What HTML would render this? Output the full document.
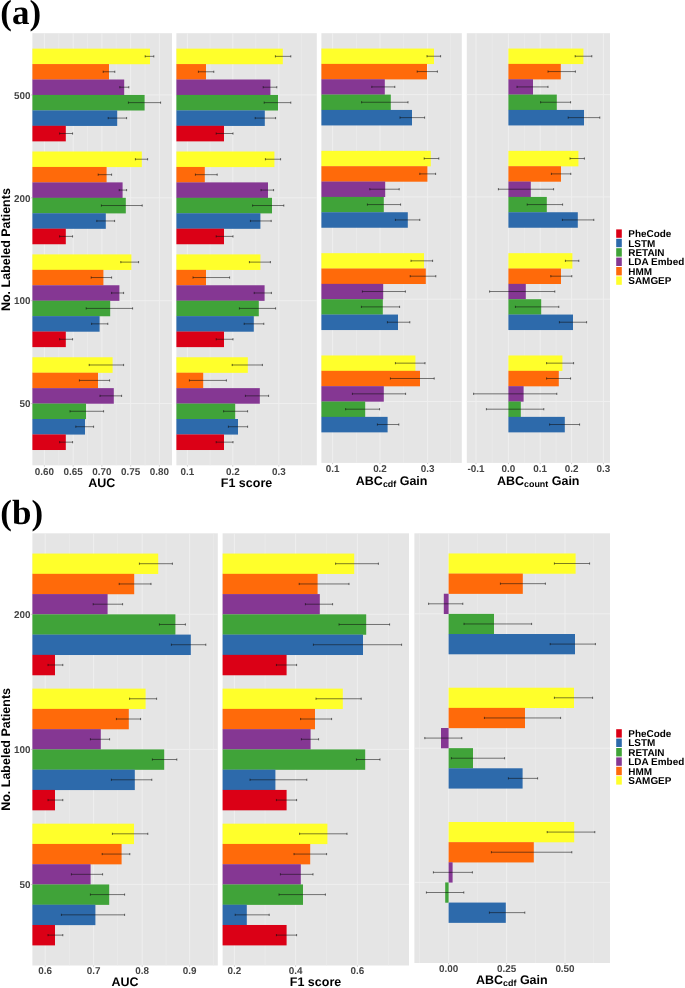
<!DOCTYPE html>
<html lang="en">
<head>
<meta charset="utf-8">
<title>Figure: phenotyping model comparison</title>
<style>
html,body{margin:0;padding:0;background:#fff;}
body{width:685px;height:988px;overflow:hidden;}
svg{display:block;will-change:transform;}
svg text{font-family:"Liberation Sans",Arial,Helvetica,sans-serif;font-weight:bold;text-rendering:geometricPrecision;}
</style>
</head>
<body>
<svg width="685" height="988" viewBox="0 0 685 988">
<rect x="0" y="0" width="685" height="988" fill="#ffffff"/>
<rect x="32.40" y="33.20" width="139.60" height="432.10" fill="#E5E5E5"/>
<line x1="58.80" y1="33.20" x2="58.80" y2="465.30" stroke="#ECECEC" stroke-width="0.6"/>
<line x1="87.50" y1="33.20" x2="87.50" y2="465.30" stroke="#ECECEC" stroke-width="0.6"/>
<line x1="116.30" y1="33.20" x2="116.30" y2="465.30" stroke="#ECECEC" stroke-width="0.6"/>
<line x1="145.00" y1="33.20" x2="145.00" y2="465.30" stroke="#ECECEC" stroke-width="0.6"/>
<line x1="44.40" y1="33.20" x2="44.40" y2="465.30" stroke="#EFEFEF" stroke-width="1.0"/>
<line x1="73.15" y1="33.20" x2="73.15" y2="465.30" stroke="#EFEFEF" stroke-width="1.0"/>
<line x1="101.90" y1="33.20" x2="101.90" y2="465.30" stroke="#EFEFEF" stroke-width="1.0"/>
<line x1="130.65" y1="33.20" x2="130.65" y2="465.30" stroke="#EFEFEF" stroke-width="1.0"/>
<line x1="159.40" y1="33.20" x2="159.40" y2="465.30" stroke="#EFEFEF" stroke-width="1.0"/>
<line x1="32.40" y1="94.93" x2="172.00" y2="94.93" stroke="#EFEFEF" stroke-width="1.0"/>
<line x1="32.40" y1="197.81" x2="172.00" y2="197.81" stroke="#EFEFEF" stroke-width="1.0"/>
<line x1="32.40" y1="300.69" x2="172.00" y2="300.69" stroke="#EFEFEF" stroke-width="1.0"/>
<line x1="32.40" y1="403.57" x2="172.00" y2="403.57" stroke="#EFEFEF" stroke-width="1.0"/>
<rect x="32.40" y="48.63" width="117.60" height="15.58" fill="#FFFF2B"/>
<rect x="32.40" y="64.06" width="76.60" height="15.58" fill="#FF6A0A"/>
<rect x="32.40" y="79.50" width="91.80" height="15.58" fill="#853793"/>
<rect x="32.40" y="94.93" width="112.20" height="15.58" fill="#40A339"/>
<rect x="32.40" y="110.36" width="84.80" height="15.58" fill="#2D6AAB"/>
<rect x="32.40" y="125.79" width="33.40" height="15.58" fill="#DB0016"/>
<line x1="145.20" y1="56.35" x2="153.80" y2="56.35" stroke="#111111" stroke-width="0.55"/>
<line x1="145.20" y1="55.25" x2="145.20" y2="57.45" stroke="#111111" stroke-width="0.6"/>
<line x1="153.80" y1="55.25" x2="153.80" y2="57.45" stroke="#111111" stroke-width="0.6"/>
<line x1="103.20" y1="71.78" x2="114.80" y2="71.78" stroke="#111111" stroke-width="0.55"/>
<line x1="103.20" y1="70.68" x2="103.20" y2="72.88" stroke="#111111" stroke-width="0.6"/>
<line x1="114.80" y1="70.68" x2="114.80" y2="72.88" stroke="#111111" stroke-width="0.6"/>
<line x1="119.80" y1="87.21" x2="128.80" y2="87.21" stroke="#111111" stroke-width="0.55"/>
<line x1="119.80" y1="86.11" x2="119.80" y2="88.31" stroke="#111111" stroke-width="0.6"/>
<line x1="128.80" y1="86.11" x2="128.80" y2="88.31" stroke="#111111" stroke-width="0.6"/>
<line x1="128.40" y1="102.64" x2="160.60" y2="102.64" stroke="#111111" stroke-width="0.55"/>
<line x1="128.40" y1="101.54" x2="128.40" y2="103.74" stroke="#111111" stroke-width="0.6"/>
<line x1="160.60" y1="101.54" x2="160.60" y2="103.74" stroke="#111111" stroke-width="0.6"/>
<line x1="108.20" y1="118.08" x2="126.60" y2="118.08" stroke="#111111" stroke-width="0.55"/>
<line x1="108.20" y1="116.98" x2="108.20" y2="119.18" stroke="#111111" stroke-width="0.6"/>
<line x1="126.60" y1="116.98" x2="126.60" y2="119.18" stroke="#111111" stroke-width="0.6"/>
<line x1="59.60" y1="133.51" x2="72.60" y2="133.51" stroke="#111111" stroke-width="0.55"/>
<line x1="59.60" y1="132.41" x2="59.60" y2="134.61" stroke="#111111" stroke-width="0.6"/>
<line x1="72.60" y1="132.41" x2="72.60" y2="134.61" stroke="#111111" stroke-width="0.6"/>
<rect x="32.40" y="151.51" width="109.40" height="15.58" fill="#FFFF2B"/>
<rect x="32.40" y="166.95" width="74.20" height="15.58" fill="#FF6A0A"/>
<rect x="32.40" y="182.38" width="90.20" height="15.58" fill="#853793"/>
<rect x="32.40" y="197.81" width="93.40" height="15.58" fill="#40A339"/>
<rect x="32.40" y="213.24" width="73.40" height="15.58" fill="#2D6AAB"/>
<rect x="32.40" y="228.67" width="33.40" height="15.58" fill="#DB0016"/>
<line x1="135.40" y1="159.23" x2="147.60" y2="159.23" stroke="#111111" stroke-width="0.55"/>
<line x1="135.40" y1="158.13" x2="135.40" y2="160.33" stroke="#111111" stroke-width="0.6"/>
<line x1="147.60" y1="158.13" x2="147.60" y2="160.33" stroke="#111111" stroke-width="0.6"/>
<line x1="98.20" y1="174.66" x2="111.60" y2="174.66" stroke="#111111" stroke-width="0.55"/>
<line x1="98.20" y1="173.56" x2="98.20" y2="175.76" stroke="#111111" stroke-width="0.6"/>
<line x1="111.60" y1="173.56" x2="111.60" y2="175.76" stroke="#111111" stroke-width="0.6"/>
<line x1="119.20" y1="190.09" x2="126.60" y2="190.09" stroke="#111111" stroke-width="0.55"/>
<line x1="119.20" y1="188.99" x2="119.20" y2="191.19" stroke="#111111" stroke-width="0.6"/>
<line x1="126.60" y1="188.99" x2="126.60" y2="191.19" stroke="#111111" stroke-width="0.6"/>
<line x1="101.40" y1="205.53" x2="142.20" y2="205.53" stroke="#111111" stroke-width="0.55"/>
<line x1="101.40" y1="204.43" x2="101.40" y2="206.63" stroke="#111111" stroke-width="0.6"/>
<line x1="142.20" y1="204.43" x2="142.20" y2="206.63" stroke="#111111" stroke-width="0.6"/>
<line x1="96.80" y1="220.96" x2="114.60" y2="220.96" stroke="#111111" stroke-width="0.55"/>
<line x1="96.80" y1="219.86" x2="96.80" y2="222.06" stroke="#111111" stroke-width="0.6"/>
<line x1="114.60" y1="219.86" x2="114.60" y2="222.06" stroke="#111111" stroke-width="0.6"/>
<line x1="59.60" y1="236.39" x2="72.60" y2="236.39" stroke="#111111" stroke-width="0.55"/>
<line x1="59.60" y1="235.29" x2="59.60" y2="237.49" stroke="#111111" stroke-width="0.6"/>
<line x1="72.60" y1="235.29" x2="72.60" y2="237.49" stroke="#111111" stroke-width="0.6"/>
<rect x="32.40" y="254.39" width="99.00" height="15.58" fill="#FFFF2B"/>
<rect x="32.40" y="269.83" width="71.00" height="15.58" fill="#FF6A0A"/>
<rect x="32.40" y="285.26" width="87.00" height="15.58" fill="#853793"/>
<rect x="32.40" y="300.69" width="77.80" height="15.58" fill="#40A339"/>
<rect x="32.40" y="316.12" width="67.20" height="15.58" fill="#2D6AAB"/>
<rect x="32.40" y="331.55" width="33.40" height="15.58" fill="#DB0016"/>
<line x1="120.80" y1="262.11" x2="138.60" y2="262.11" stroke="#111111" stroke-width="0.55"/>
<line x1="120.80" y1="261.01" x2="120.80" y2="263.21" stroke="#111111" stroke-width="0.6"/>
<line x1="138.60" y1="261.01" x2="138.60" y2="263.21" stroke="#111111" stroke-width="0.6"/>
<line x1="91.20" y1="277.54" x2="111.60" y2="277.54" stroke="#111111" stroke-width="0.55"/>
<line x1="91.20" y1="276.44" x2="91.20" y2="278.64" stroke="#111111" stroke-width="0.6"/>
<line x1="111.60" y1="276.44" x2="111.60" y2="278.64" stroke="#111111" stroke-width="0.6"/>
<line x1="111.60" y1="292.97" x2="123.60" y2="292.97" stroke="#111111" stroke-width="0.55"/>
<line x1="111.60" y1="291.87" x2="111.60" y2="294.07" stroke="#111111" stroke-width="0.6"/>
<line x1="123.60" y1="291.87" x2="123.60" y2="294.07" stroke="#111111" stroke-width="0.6"/>
<line x1="86.20" y1="308.41" x2="132.60" y2="308.41" stroke="#111111" stroke-width="0.55"/>
<line x1="86.20" y1="307.31" x2="86.20" y2="309.51" stroke="#111111" stroke-width="0.6"/>
<line x1="132.60" y1="307.31" x2="132.60" y2="309.51" stroke="#111111" stroke-width="0.6"/>
<line x1="91.60" y1="323.84" x2="107.80" y2="323.84" stroke="#111111" stroke-width="0.55"/>
<line x1="91.60" y1="322.74" x2="91.60" y2="324.94" stroke="#111111" stroke-width="0.6"/>
<line x1="107.80" y1="322.74" x2="107.80" y2="324.94" stroke="#111111" stroke-width="0.6"/>
<line x1="59.60" y1="339.27" x2="72.60" y2="339.27" stroke="#111111" stroke-width="0.55"/>
<line x1="59.60" y1="338.17" x2="59.60" y2="340.37" stroke="#111111" stroke-width="0.6"/>
<line x1="72.60" y1="338.17" x2="72.60" y2="340.37" stroke="#111111" stroke-width="0.6"/>
<rect x="32.40" y="357.27" width="80.20" height="15.58" fill="#FFFF2B"/>
<rect x="32.40" y="372.71" width="65.60" height="15.58" fill="#FF6A0A"/>
<rect x="32.40" y="388.14" width="81.40" height="15.58" fill="#853793"/>
<rect x="32.40" y="403.57" width="53.60" height="15.58" fill="#40A339"/>
<rect x="32.40" y="419.00" width="52.60" height="15.58" fill="#2D6AAB"/>
<rect x="32.40" y="434.44" width="33.40" height="15.58" fill="#DB0016"/>
<line x1="89.20" y1="364.99" x2="123.60" y2="364.99" stroke="#111111" stroke-width="0.55"/>
<line x1="89.20" y1="363.89" x2="89.20" y2="366.09" stroke="#111111" stroke-width="0.6"/>
<line x1="123.60" y1="363.89" x2="123.60" y2="366.09" stroke="#111111" stroke-width="0.6"/>
<line x1="79.40" y1="380.42" x2="109.60" y2="380.42" stroke="#111111" stroke-width="0.55"/>
<line x1="79.40" y1="379.32" x2="79.40" y2="381.52" stroke="#111111" stroke-width="0.6"/>
<line x1="109.60" y1="379.32" x2="109.60" y2="381.52" stroke="#111111" stroke-width="0.6"/>
<line x1="100.00" y1="395.86" x2="121.60" y2="395.86" stroke="#111111" stroke-width="0.55"/>
<line x1="100.00" y1="394.76" x2="100.00" y2="396.96" stroke="#111111" stroke-width="0.6"/>
<line x1="121.60" y1="394.76" x2="121.60" y2="396.96" stroke="#111111" stroke-width="0.6"/>
<line x1="70.00" y1="411.29" x2="103.60" y2="411.29" stroke="#111111" stroke-width="0.55"/>
<line x1="70.00" y1="410.19" x2="70.00" y2="412.39" stroke="#111111" stroke-width="0.6"/>
<line x1="103.60" y1="410.19" x2="103.60" y2="412.39" stroke="#111111" stroke-width="0.6"/>
<line x1="75.80" y1="426.72" x2="93.60" y2="426.72" stroke="#111111" stroke-width="0.55"/>
<line x1="75.80" y1="425.62" x2="75.80" y2="427.82" stroke="#111111" stroke-width="0.6"/>
<line x1="93.60" y1="425.62" x2="93.60" y2="427.82" stroke="#111111" stroke-width="0.6"/>
<line x1="59.60" y1="442.15" x2="72.60" y2="442.15" stroke="#111111" stroke-width="0.55"/>
<line x1="59.60" y1="441.05" x2="59.60" y2="443.25" stroke="#111111" stroke-width="0.6"/>
<line x1="72.60" y1="441.05" x2="72.60" y2="443.25" stroke="#111111" stroke-width="0.6"/>
<line x1="44.40" y1="465.30" x2="44.40" y2="466.60" stroke="#9A9A9A" stroke-width="0.5"/>
<text x="44.40" y="474.60" font-size="9.9" text-anchor="middle" fill="#444444" >0.60</text>
<line x1="73.15" y1="465.30" x2="73.15" y2="466.60" stroke="#9A9A9A" stroke-width="0.5"/>
<text x="73.15" y="474.60" font-size="9.9" text-anchor="middle" fill="#444444" >0.65</text>
<line x1="101.90" y1="465.30" x2="101.90" y2="466.60" stroke="#9A9A9A" stroke-width="0.5"/>
<text x="101.90" y="474.60" font-size="9.9" text-anchor="middle" fill="#444444" >0.70</text>
<line x1="130.65" y1="465.30" x2="130.65" y2="466.60" stroke="#9A9A9A" stroke-width="0.5"/>
<text x="130.65" y="474.60" font-size="9.9" text-anchor="middle" fill="#444444" >0.75</text>
<line x1="159.40" y1="465.30" x2="159.40" y2="466.60" stroke="#9A9A9A" stroke-width="0.5"/>
<text x="159.40" y="474.60" font-size="9.9" text-anchor="middle" fill="#444444" >0.80</text>
<line x1="31.10" y1="94.93" x2="32.40" y2="94.93" stroke="#9A9A9A" stroke-width="0.5"/>
<line x1="31.10" y1="197.81" x2="32.40" y2="197.81" stroke="#9A9A9A" stroke-width="0.5"/>
<line x1="31.10" y1="300.69" x2="32.40" y2="300.69" stroke="#9A9A9A" stroke-width="0.5"/>
<line x1="31.10" y1="403.57" x2="32.40" y2="403.57" stroke="#9A9A9A" stroke-width="0.5"/>
<rect x="176.40" y="33.20" width="140.40" height="432.10" fill="#E5E5E5"/>
<line x1="210.10" y1="33.20" x2="210.10" y2="465.30" stroke="#ECECEC" stroke-width="0.6"/>
<line x1="255.80" y1="33.20" x2="255.80" y2="465.30" stroke="#ECECEC" stroke-width="0.6"/>
<line x1="301.60" y1="33.20" x2="301.60" y2="465.30" stroke="#ECECEC" stroke-width="0.6"/>
<line x1="187.40" y1="33.20" x2="187.40" y2="465.30" stroke="#EFEFEF" stroke-width="1.0"/>
<line x1="232.80" y1="33.20" x2="232.80" y2="465.30" stroke="#EFEFEF" stroke-width="1.0"/>
<line x1="278.80" y1="33.20" x2="278.80" y2="465.30" stroke="#EFEFEF" stroke-width="1.0"/>
<line x1="176.40" y1="94.93" x2="316.80" y2="94.93" stroke="#EFEFEF" stroke-width="1.0"/>
<line x1="176.40" y1="197.81" x2="316.80" y2="197.81" stroke="#EFEFEF" stroke-width="1.0"/>
<line x1="176.40" y1="300.69" x2="316.80" y2="300.69" stroke="#EFEFEF" stroke-width="1.0"/>
<line x1="176.40" y1="403.57" x2="316.80" y2="403.57" stroke="#EFEFEF" stroke-width="1.0"/>
<rect x="176.40" y="48.63" width="106.40" height="15.58" fill="#FFFF2B"/>
<rect x="176.40" y="64.06" width="29.60" height="15.58" fill="#FF6A0A"/>
<rect x="176.40" y="79.50" width="94.00" height="15.58" fill="#853793"/>
<rect x="176.40" y="94.93" width="101.60" height="15.58" fill="#40A339"/>
<rect x="176.40" y="110.36" width="88.40" height="15.58" fill="#2D6AAB"/>
<rect x="176.40" y="125.79" width="47.60" height="15.58" fill="#DB0016"/>
<line x1="275.40" y1="56.35" x2="290.80" y2="56.35" stroke="#111111" stroke-width="0.55"/>
<line x1="275.40" y1="55.25" x2="275.40" y2="57.45" stroke="#111111" stroke-width="0.6"/>
<line x1="290.80" y1="55.25" x2="290.80" y2="57.45" stroke="#111111" stroke-width="0.6"/>
<line x1="198.40" y1="71.78" x2="213.80" y2="71.78" stroke="#111111" stroke-width="0.55"/>
<line x1="198.40" y1="70.68" x2="198.40" y2="72.88" stroke="#111111" stroke-width="0.6"/>
<line x1="213.80" y1="70.68" x2="213.80" y2="72.88" stroke="#111111" stroke-width="0.6"/>
<line x1="263.20" y1="87.21" x2="276.80" y2="87.21" stroke="#111111" stroke-width="0.55"/>
<line x1="263.20" y1="86.11" x2="263.20" y2="88.31" stroke="#111111" stroke-width="0.6"/>
<line x1="276.80" y1="86.11" x2="276.80" y2="88.31" stroke="#111111" stroke-width="0.6"/>
<line x1="264.20" y1="102.64" x2="290.80" y2="102.64" stroke="#111111" stroke-width="0.55"/>
<line x1="264.20" y1="101.54" x2="264.20" y2="103.74" stroke="#111111" stroke-width="0.6"/>
<line x1="290.80" y1="101.54" x2="290.80" y2="103.74" stroke="#111111" stroke-width="0.6"/>
<line x1="255.20" y1="118.08" x2="275.60" y2="118.08" stroke="#111111" stroke-width="0.55"/>
<line x1="255.20" y1="116.98" x2="255.20" y2="119.18" stroke="#111111" stroke-width="0.6"/>
<line x1="275.60" y1="116.98" x2="275.60" y2="119.18" stroke="#111111" stroke-width="0.6"/>
<line x1="216.20" y1="133.51" x2="233.00" y2="133.51" stroke="#111111" stroke-width="0.55"/>
<line x1="216.20" y1="132.41" x2="216.20" y2="134.61" stroke="#111111" stroke-width="0.6"/>
<line x1="233.00" y1="132.41" x2="233.00" y2="134.61" stroke="#111111" stroke-width="0.6"/>
<rect x="176.40" y="151.51" width="98.00" height="15.58" fill="#FFFF2B"/>
<rect x="176.40" y="166.95" width="28.40" height="15.58" fill="#FF6A0A"/>
<rect x="176.40" y="182.38" width="91.60" height="15.58" fill="#853793"/>
<rect x="176.40" y="197.81" width="95.60" height="15.58" fill="#40A339"/>
<rect x="176.40" y="213.24" width="84.00" height="15.58" fill="#2D6AAB"/>
<rect x="176.40" y="228.67" width="47.60" height="15.58" fill="#DB0016"/>
<line x1="265.40" y1="159.23" x2="280.60" y2="159.23" stroke="#111111" stroke-width="0.55"/>
<line x1="265.40" y1="158.13" x2="265.40" y2="160.33" stroke="#111111" stroke-width="0.6"/>
<line x1="280.60" y1="158.13" x2="280.60" y2="160.33" stroke="#111111" stroke-width="0.6"/>
<line x1="195.40" y1="174.66" x2="217.20" y2="174.66" stroke="#111111" stroke-width="0.55"/>
<line x1="195.40" y1="173.56" x2="195.40" y2="175.76" stroke="#111111" stroke-width="0.6"/>
<line x1="217.20" y1="173.56" x2="217.20" y2="175.76" stroke="#111111" stroke-width="0.6"/>
<line x1="261.00" y1="190.09" x2="273.60" y2="190.09" stroke="#111111" stroke-width="0.55"/>
<line x1="261.00" y1="188.99" x2="261.00" y2="191.19" stroke="#111111" stroke-width="0.6"/>
<line x1="273.60" y1="188.99" x2="273.60" y2="191.19" stroke="#111111" stroke-width="0.6"/>
<line x1="252.60" y1="205.53" x2="283.80" y2="205.53" stroke="#111111" stroke-width="0.55"/>
<line x1="252.60" y1="204.43" x2="252.60" y2="206.63" stroke="#111111" stroke-width="0.6"/>
<line x1="283.80" y1="204.43" x2="283.80" y2="206.63" stroke="#111111" stroke-width="0.6"/>
<line x1="250.40" y1="220.96" x2="271.20" y2="220.96" stroke="#111111" stroke-width="0.55"/>
<line x1="250.40" y1="219.86" x2="250.40" y2="222.06" stroke="#111111" stroke-width="0.6"/>
<line x1="271.20" y1="219.86" x2="271.20" y2="222.06" stroke="#111111" stroke-width="0.6"/>
<line x1="216.20" y1="236.39" x2="233.00" y2="236.39" stroke="#111111" stroke-width="0.55"/>
<line x1="216.20" y1="235.29" x2="216.20" y2="237.49" stroke="#111111" stroke-width="0.6"/>
<line x1="233.00" y1="235.29" x2="233.00" y2="237.49" stroke="#111111" stroke-width="0.6"/>
<rect x="176.40" y="254.39" width="84.00" height="15.58" fill="#FFFF2B"/>
<rect x="176.40" y="269.83" width="29.60" height="15.58" fill="#FF6A0A"/>
<rect x="176.40" y="285.26" width="88.20" height="15.58" fill="#853793"/>
<rect x="176.40" y="300.69" width="82.40" height="15.58" fill="#40A339"/>
<rect x="176.40" y="316.12" width="77.40" height="15.58" fill="#2D6AAB"/>
<rect x="176.40" y="331.55" width="47.60" height="15.58" fill="#DB0016"/>
<line x1="249.40" y1="262.11" x2="270.40" y2="262.11" stroke="#111111" stroke-width="0.55"/>
<line x1="249.40" y1="261.01" x2="249.40" y2="263.21" stroke="#111111" stroke-width="0.6"/>
<line x1="270.40" y1="261.01" x2="270.40" y2="263.21" stroke="#111111" stroke-width="0.6"/>
<line x1="193.00" y1="277.54" x2="229.60" y2="277.54" stroke="#111111" stroke-width="0.55"/>
<line x1="193.00" y1="276.44" x2="193.00" y2="278.64" stroke="#111111" stroke-width="0.6"/>
<line x1="229.60" y1="276.44" x2="229.60" y2="278.64" stroke="#111111" stroke-width="0.6"/>
<line x1="254.20" y1="292.97" x2="271.40" y2="292.97" stroke="#111111" stroke-width="0.55"/>
<line x1="254.20" y1="291.87" x2="254.20" y2="294.07" stroke="#111111" stroke-width="0.6"/>
<line x1="271.40" y1="291.87" x2="271.40" y2="294.07" stroke="#111111" stroke-width="0.6"/>
<line x1="239.40" y1="308.41" x2="275.60" y2="308.41" stroke="#111111" stroke-width="0.55"/>
<line x1="239.40" y1="307.31" x2="239.40" y2="309.51" stroke="#111111" stroke-width="0.6"/>
<line x1="275.60" y1="307.31" x2="275.60" y2="309.51" stroke="#111111" stroke-width="0.6"/>
<line x1="244.20" y1="323.84" x2="263.80" y2="323.84" stroke="#111111" stroke-width="0.55"/>
<line x1="244.20" y1="322.74" x2="244.20" y2="324.94" stroke="#111111" stroke-width="0.6"/>
<line x1="263.80" y1="322.74" x2="263.80" y2="324.94" stroke="#111111" stroke-width="0.6"/>
<line x1="216.20" y1="339.27" x2="233.00" y2="339.27" stroke="#111111" stroke-width="0.55"/>
<line x1="216.20" y1="338.17" x2="216.20" y2="340.37" stroke="#111111" stroke-width="0.6"/>
<line x1="233.00" y1="338.17" x2="233.00" y2="340.37" stroke="#111111" stroke-width="0.6"/>
<rect x="176.40" y="357.27" width="71.40" height="15.58" fill="#FFFF2B"/>
<rect x="176.40" y="372.71" width="26.80" height="15.58" fill="#FF6A0A"/>
<rect x="176.40" y="388.14" width="83.40" height="15.58" fill="#853793"/>
<rect x="176.40" y="403.57" width="58.80" height="15.58" fill="#40A339"/>
<rect x="176.40" y="419.00" width="61.60" height="15.58" fill="#2D6AAB"/>
<rect x="176.40" y="434.44" width="47.60" height="15.58" fill="#DB0016"/>
<line x1="232.20" y1="364.99" x2="262.40" y2="364.99" stroke="#111111" stroke-width="0.55"/>
<line x1="232.20" y1="363.89" x2="232.20" y2="366.09" stroke="#111111" stroke-width="0.6"/>
<line x1="262.40" y1="363.89" x2="262.40" y2="366.09" stroke="#111111" stroke-width="0.6"/>
<line x1="189.40" y1="380.42" x2="226.40" y2="380.42" stroke="#111111" stroke-width="0.55"/>
<line x1="189.40" y1="379.32" x2="189.40" y2="381.52" stroke="#111111" stroke-width="0.6"/>
<line x1="226.40" y1="379.32" x2="226.40" y2="381.52" stroke="#111111" stroke-width="0.6"/>
<line x1="245.40" y1="395.86" x2="268.60" y2="395.86" stroke="#111111" stroke-width="0.55"/>
<line x1="245.40" y1="394.76" x2="245.40" y2="396.96" stroke="#111111" stroke-width="0.6"/>
<line x1="268.60" y1="394.76" x2="268.60" y2="396.96" stroke="#111111" stroke-width="0.6"/>
<line x1="223.60" y1="411.29" x2="247.60" y2="411.29" stroke="#111111" stroke-width="0.55"/>
<line x1="223.60" y1="410.19" x2="223.60" y2="412.39" stroke="#111111" stroke-width="0.6"/>
<line x1="247.60" y1="410.19" x2="247.60" y2="412.39" stroke="#111111" stroke-width="0.6"/>
<line x1="228.40" y1="426.72" x2="247.60" y2="426.72" stroke="#111111" stroke-width="0.55"/>
<line x1="228.40" y1="425.62" x2="228.40" y2="427.82" stroke="#111111" stroke-width="0.6"/>
<line x1="247.60" y1="425.62" x2="247.60" y2="427.82" stroke="#111111" stroke-width="0.6"/>
<line x1="216.20" y1="442.15" x2="233.00" y2="442.15" stroke="#111111" stroke-width="0.55"/>
<line x1="216.20" y1="441.05" x2="216.20" y2="443.25" stroke="#111111" stroke-width="0.6"/>
<line x1="233.00" y1="441.05" x2="233.00" y2="443.25" stroke="#111111" stroke-width="0.6"/>
<line x1="187.40" y1="465.30" x2="187.40" y2="466.60" stroke="#9A9A9A" stroke-width="0.5"/>
<text x="187.40" y="474.60" font-size="9.9" text-anchor="middle" fill="#444444" >0.1</text>
<line x1="232.80" y1="465.30" x2="232.80" y2="466.60" stroke="#9A9A9A" stroke-width="0.5"/>
<text x="232.80" y="474.60" font-size="9.9" text-anchor="middle" fill="#444444" >0.2</text>
<line x1="278.80" y1="465.30" x2="278.80" y2="466.60" stroke="#9A9A9A" stroke-width="0.5"/>
<text x="278.80" y="474.60" font-size="9.9" text-anchor="middle" fill="#444444" >0.3</text>
<rect x="321.40" y="33.20" width="140.40" height="429.70" fill="#E5E5E5"/>
<line x1="356.40" y1="33.20" x2="356.40" y2="462.90" stroke="#ECECEC" stroke-width="0.6"/>
<line x1="403.60" y1="33.20" x2="403.60" y2="462.90" stroke="#ECECEC" stroke-width="0.6"/>
<line x1="450.60" y1="33.20" x2="450.60" y2="462.90" stroke="#ECECEC" stroke-width="0.6"/>
<line x1="332.60" y1="33.20" x2="332.60" y2="462.90" stroke="#EFEFEF" stroke-width="1.0"/>
<line x1="380.00" y1="33.20" x2="380.00" y2="462.90" stroke="#EFEFEF" stroke-width="1.0"/>
<line x1="427.60" y1="33.20" x2="427.60" y2="462.90" stroke="#EFEFEF" stroke-width="1.0"/>
<line x1="321.40" y1="94.59" x2="461.80" y2="94.59" stroke="#EFEFEF" stroke-width="1.0"/>
<line x1="321.40" y1="196.90" x2="461.80" y2="196.90" stroke="#EFEFEF" stroke-width="1.0"/>
<line x1="321.40" y1="299.20" x2="461.80" y2="299.20" stroke="#EFEFEF" stroke-width="1.0"/>
<line x1="321.40" y1="401.51" x2="461.80" y2="401.51" stroke="#EFEFEF" stroke-width="1.0"/>
<rect x="321.40" y="48.55" width="112.60" height="15.50" fill="#FFFF2B"/>
<rect x="321.40" y="63.89" width="105.60" height="15.50" fill="#FF6A0A"/>
<rect x="321.40" y="79.24" width="63.40" height="15.50" fill="#853793"/>
<rect x="321.40" y="94.59" width="69.40" height="15.50" fill="#40A339"/>
<rect x="321.40" y="109.93" width="90.60" height="15.50" fill="#2D6AAB"/>
<line x1="427.00" y1="56.22" x2="440.60" y2="56.22" stroke="#111111" stroke-width="0.55"/>
<line x1="427.00" y1="55.12" x2="427.00" y2="57.32" stroke="#111111" stroke-width="0.6"/>
<line x1="440.60" y1="55.12" x2="440.60" y2="57.32" stroke="#111111" stroke-width="0.6"/>
<line x1="417.20" y1="71.57" x2="437.40" y2="71.57" stroke="#111111" stroke-width="0.55"/>
<line x1="417.20" y1="70.47" x2="417.20" y2="72.67" stroke="#111111" stroke-width="0.6"/>
<line x1="437.40" y1="70.47" x2="437.40" y2="72.67" stroke="#111111" stroke-width="0.6"/>
<line x1="371.80" y1="86.91" x2="394.80" y2="86.91" stroke="#111111" stroke-width="0.55"/>
<line x1="371.80" y1="85.81" x2="371.80" y2="88.01" stroke="#111111" stroke-width="0.6"/>
<line x1="394.80" y1="85.81" x2="394.80" y2="88.01" stroke="#111111" stroke-width="0.6"/>
<line x1="361.60" y1="102.26" x2="408.00" y2="102.26" stroke="#111111" stroke-width="0.55"/>
<line x1="361.60" y1="101.16" x2="361.60" y2="103.36" stroke="#111111" stroke-width="0.6"/>
<line x1="408.00" y1="101.16" x2="408.00" y2="103.36" stroke="#111111" stroke-width="0.6"/>
<line x1="400.00" y1="117.61" x2="424.60" y2="117.61" stroke="#111111" stroke-width="0.55"/>
<line x1="400.00" y1="116.51" x2="400.00" y2="118.71" stroke="#111111" stroke-width="0.6"/>
<line x1="424.60" y1="116.51" x2="424.60" y2="118.71" stroke="#111111" stroke-width="0.6"/>
<rect x="321.40" y="150.86" width="109.40" height="15.50" fill="#FFFF2B"/>
<rect x="321.40" y="166.20" width="106.00" height="15.50" fill="#FF6A0A"/>
<rect x="321.40" y="181.55" width="63.80" height="15.50" fill="#853793"/>
<rect x="321.40" y="196.90" width="62.40" height="15.50" fill="#40A339"/>
<rect x="321.40" y="212.24" width="86.40" height="15.50" fill="#2D6AAB"/>
<line x1="424.20" y1="158.53" x2="438.80" y2="158.53" stroke="#111111" stroke-width="0.55"/>
<line x1="424.20" y1="157.43" x2="424.20" y2="159.63" stroke="#111111" stroke-width="0.6"/>
<line x1="438.80" y1="157.43" x2="438.80" y2="159.63" stroke="#111111" stroke-width="0.6"/>
<line x1="419.80" y1="173.88" x2="435.60" y2="173.88" stroke="#111111" stroke-width="0.55"/>
<line x1="419.80" y1="172.78" x2="419.80" y2="174.98" stroke="#111111" stroke-width="0.6"/>
<line x1="435.60" y1="172.78" x2="435.60" y2="174.98" stroke="#111111" stroke-width="0.6"/>
<line x1="369.80" y1="189.22" x2="399.20" y2="189.22" stroke="#111111" stroke-width="0.55"/>
<line x1="369.80" y1="188.12" x2="369.80" y2="190.32" stroke="#111111" stroke-width="0.6"/>
<line x1="399.20" y1="188.12" x2="399.20" y2="190.32" stroke="#111111" stroke-width="0.6"/>
<line x1="367.40" y1="204.57" x2="400.60" y2="204.57" stroke="#111111" stroke-width="0.55"/>
<line x1="367.40" y1="203.47" x2="367.40" y2="205.67" stroke="#111111" stroke-width="0.6"/>
<line x1="400.60" y1="203.47" x2="400.60" y2="205.67" stroke="#111111" stroke-width="0.6"/>
<line x1="395.40" y1="219.91" x2="419.80" y2="219.91" stroke="#111111" stroke-width="0.55"/>
<line x1="395.40" y1="218.81" x2="395.40" y2="221.01" stroke="#111111" stroke-width="0.6"/>
<line x1="419.80" y1="218.81" x2="419.80" y2="221.01" stroke="#111111" stroke-width="0.6"/>
<rect x="321.40" y="253.17" width="102.60" height="15.50" fill="#FFFF2B"/>
<rect x="321.40" y="268.51" width="104.40" height="15.50" fill="#FF6A0A"/>
<rect x="321.40" y="283.86" width="61.80" height="15.50" fill="#853793"/>
<rect x="321.40" y="299.20" width="61.40" height="15.50" fill="#40A339"/>
<rect x="321.40" y="314.55" width="76.60" height="15.50" fill="#2D6AAB"/>
<line x1="411.00" y1="260.84" x2="432.60" y2="260.84" stroke="#111111" stroke-width="0.55"/>
<line x1="411.00" y1="259.74" x2="411.00" y2="261.94" stroke="#111111" stroke-width="0.6"/>
<line x1="432.60" y1="259.74" x2="432.60" y2="261.94" stroke="#111111" stroke-width="0.6"/>
<line x1="410.20" y1="276.19" x2="435.80" y2="276.19" stroke="#111111" stroke-width="0.55"/>
<line x1="410.20" y1="275.09" x2="410.20" y2="277.29" stroke="#111111" stroke-width="0.6"/>
<line x1="435.80" y1="275.09" x2="435.80" y2="277.29" stroke="#111111" stroke-width="0.6"/>
<line x1="362.40" y1="291.53" x2="405.40" y2="291.53" stroke="#111111" stroke-width="0.55"/>
<line x1="362.40" y1="290.43" x2="362.40" y2="292.63" stroke="#111111" stroke-width="0.6"/>
<line x1="405.40" y1="290.43" x2="405.40" y2="292.63" stroke="#111111" stroke-width="0.6"/>
<line x1="361.40" y1="306.88" x2="399.60" y2="306.88" stroke="#111111" stroke-width="0.55"/>
<line x1="361.40" y1="305.78" x2="361.40" y2="307.98" stroke="#111111" stroke-width="0.6"/>
<line x1="399.60" y1="305.78" x2="399.60" y2="307.98" stroke="#111111" stroke-width="0.6"/>
<line x1="387.40" y1="322.22" x2="409.80" y2="322.22" stroke="#111111" stroke-width="0.55"/>
<line x1="387.40" y1="321.12" x2="387.40" y2="323.32" stroke="#111111" stroke-width="0.6"/>
<line x1="409.80" y1="321.12" x2="409.80" y2="323.32" stroke="#111111" stroke-width="0.6"/>
<rect x="321.40" y="355.47" width="94.00" height="15.50" fill="#FFFF2B"/>
<rect x="321.40" y="370.82" width="98.60" height="15.50" fill="#FF6A0A"/>
<rect x="321.40" y="386.17" width="62.40" height="15.50" fill="#853793"/>
<rect x="321.40" y="401.51" width="43.80" height="15.50" fill="#40A339"/>
<rect x="321.40" y="416.86" width="66.20" height="15.50" fill="#2D6AAB"/>
<line x1="395.40" y1="363.15" x2="425.00" y2="363.15" stroke="#111111" stroke-width="0.55"/>
<line x1="395.40" y1="362.05" x2="395.40" y2="364.25" stroke="#111111" stroke-width="0.6"/>
<line x1="425.00" y1="362.05" x2="425.00" y2="364.25" stroke="#111111" stroke-width="0.6"/>
<line x1="390.40" y1="378.49" x2="434.20" y2="378.49" stroke="#111111" stroke-width="0.55"/>
<line x1="390.40" y1="377.39" x2="390.40" y2="379.59" stroke="#111111" stroke-width="0.6"/>
<line x1="434.20" y1="377.39" x2="434.20" y2="379.59" stroke="#111111" stroke-width="0.6"/>
<line x1="352.40" y1="393.84" x2="405.60" y2="393.84" stroke="#111111" stroke-width="0.55"/>
<line x1="352.40" y1="392.74" x2="352.40" y2="394.94" stroke="#111111" stroke-width="0.6"/>
<line x1="405.60" y1="392.74" x2="405.60" y2="394.94" stroke="#111111" stroke-width="0.6"/>
<line x1="345.60" y1="409.19" x2="379.60" y2="409.19" stroke="#111111" stroke-width="0.55"/>
<line x1="345.60" y1="408.09" x2="345.60" y2="410.29" stroke="#111111" stroke-width="0.6"/>
<line x1="379.60" y1="408.09" x2="379.60" y2="410.29" stroke="#111111" stroke-width="0.6"/>
<line x1="377.40" y1="424.53" x2="398.80" y2="424.53" stroke="#111111" stroke-width="0.55"/>
<line x1="377.40" y1="423.43" x2="377.40" y2="425.63" stroke="#111111" stroke-width="0.6"/>
<line x1="398.80" y1="423.43" x2="398.80" y2="425.63" stroke="#111111" stroke-width="0.6"/>
<line x1="332.60" y1="462.90" x2="332.60" y2="464.20" stroke="#9A9A9A" stroke-width="0.5"/>
<text x="332.60" y="471.80" font-size="9.9" text-anchor="middle" fill="#444444" >0.1</text>
<line x1="380.00" y1="462.90" x2="380.00" y2="464.20" stroke="#9A9A9A" stroke-width="0.5"/>
<text x="380.00" y="471.80" font-size="9.9" text-anchor="middle" fill="#444444" >0.2</text>
<line x1="427.60" y1="462.90" x2="427.60" y2="464.20" stroke="#9A9A9A" stroke-width="0.5"/>
<text x="427.60" y="471.80" font-size="9.9" text-anchor="middle" fill="#444444" >0.3</text>
<rect x="466.80" y="33.20" width="143.20" height="429.70" fill="#E5E5E5"/>
<line x1="492.20" y1="33.20" x2="492.20" y2="462.90" stroke="#ECECEC" stroke-width="0.6"/>
<line x1="524.60" y1="33.20" x2="524.60" y2="462.90" stroke="#ECECEC" stroke-width="0.6"/>
<line x1="556.00" y1="33.20" x2="556.00" y2="462.90" stroke="#ECECEC" stroke-width="0.6"/>
<line x1="587.40" y1="33.20" x2="587.40" y2="462.90" stroke="#ECECEC" stroke-width="0.6"/>
<line x1="476.00" y1="33.20" x2="476.00" y2="462.90" stroke="#EFEFEF" stroke-width="1.0"/>
<line x1="508.40" y1="33.20" x2="508.40" y2="462.90" stroke="#EFEFEF" stroke-width="1.0"/>
<line x1="540.20" y1="33.20" x2="540.20" y2="462.90" stroke="#EFEFEF" stroke-width="1.0"/>
<line x1="571.60" y1="33.20" x2="571.60" y2="462.90" stroke="#EFEFEF" stroke-width="1.0"/>
<line x1="603.40" y1="33.20" x2="603.40" y2="462.90" stroke="#EFEFEF" stroke-width="1.0"/>
<line x1="466.80" y1="94.59" x2="610.00" y2="94.59" stroke="#EFEFEF" stroke-width="1.0"/>
<line x1="466.80" y1="196.90" x2="610.00" y2="196.90" stroke="#EFEFEF" stroke-width="1.0"/>
<line x1="466.80" y1="299.20" x2="610.00" y2="299.20" stroke="#EFEFEF" stroke-width="1.0"/>
<line x1="466.80" y1="401.51" x2="610.00" y2="401.51" stroke="#EFEFEF" stroke-width="1.0"/>
<rect x="508.40" y="48.55" width="75.00" height="15.50" fill="#FFFF2B"/>
<rect x="508.40" y="63.89" width="52.40" height="15.50" fill="#FF6A0A"/>
<rect x="508.40" y="79.24" width="24.60" height="15.50" fill="#853793"/>
<rect x="508.40" y="94.59" width="48.40" height="15.50" fill="#40A339"/>
<rect x="508.40" y="109.93" width="75.60" height="15.50" fill="#2D6AAB"/>
<line x1="575.20" y1="56.22" x2="591.80" y2="56.22" stroke="#111111" stroke-width="0.55"/>
<line x1="575.20" y1="55.12" x2="575.20" y2="57.32" stroke="#111111" stroke-width="0.6"/>
<line x1="591.80" y1="55.12" x2="591.80" y2="57.32" stroke="#111111" stroke-width="0.6"/>
<line x1="548.00" y1="71.57" x2="575.40" y2="71.57" stroke="#111111" stroke-width="0.55"/>
<line x1="548.00" y1="70.47" x2="548.00" y2="72.67" stroke="#111111" stroke-width="0.6"/>
<line x1="575.40" y1="70.47" x2="575.40" y2="72.67" stroke="#111111" stroke-width="0.6"/>
<line x1="517.00" y1="86.91" x2="548.00" y2="86.91" stroke="#111111" stroke-width="0.55"/>
<line x1="517.00" y1="85.81" x2="517.00" y2="88.01" stroke="#111111" stroke-width="0.6"/>
<line x1="548.00" y1="85.81" x2="548.00" y2="88.01" stroke="#111111" stroke-width="0.6"/>
<line x1="540.60" y1="102.26" x2="570.60" y2="102.26" stroke="#111111" stroke-width="0.55"/>
<line x1="540.60" y1="101.16" x2="540.60" y2="103.36" stroke="#111111" stroke-width="0.6"/>
<line x1="570.60" y1="101.16" x2="570.60" y2="103.36" stroke="#111111" stroke-width="0.6"/>
<line x1="568.20" y1="117.61" x2="599.80" y2="117.61" stroke="#111111" stroke-width="0.55"/>
<line x1="568.20" y1="116.51" x2="568.20" y2="118.71" stroke="#111111" stroke-width="0.6"/>
<line x1="599.80" y1="116.51" x2="599.80" y2="118.71" stroke="#111111" stroke-width="0.6"/>
<rect x="508.40" y="150.86" width="70.00" height="15.50" fill="#FFFF2B"/>
<rect x="508.40" y="166.20" width="52.60" height="15.50" fill="#FF6A0A"/>
<rect x="508.40" y="181.55" width="22.40" height="15.50" fill="#853793"/>
<rect x="508.40" y="196.90" width="38.40" height="15.50" fill="#40A339"/>
<rect x="508.40" y="212.24" width="69.40" height="15.50" fill="#2D6AAB"/>
<line x1="570.00" y1="158.53" x2="584.40" y2="158.53" stroke="#111111" stroke-width="0.55"/>
<line x1="570.00" y1="157.43" x2="570.00" y2="159.63" stroke="#111111" stroke-width="0.6"/>
<line x1="584.40" y1="157.43" x2="584.40" y2="159.63" stroke="#111111" stroke-width="0.6"/>
<line x1="551.40" y1="173.88" x2="570.80" y2="173.88" stroke="#111111" stroke-width="0.55"/>
<line x1="551.40" y1="172.78" x2="551.40" y2="174.98" stroke="#111111" stroke-width="0.6"/>
<line x1="570.80" y1="172.78" x2="570.80" y2="174.98" stroke="#111111" stroke-width="0.6"/>
<line x1="498.40" y1="189.22" x2="553.60" y2="189.22" stroke="#111111" stroke-width="0.55"/>
<line x1="498.40" y1="188.12" x2="498.40" y2="190.32" stroke="#111111" stroke-width="0.6"/>
<line x1="553.60" y1="188.12" x2="553.60" y2="190.32" stroke="#111111" stroke-width="0.6"/>
<line x1="527.20" y1="204.57" x2="562.60" y2="204.57" stroke="#111111" stroke-width="0.55"/>
<line x1="527.20" y1="203.47" x2="527.20" y2="205.67" stroke="#111111" stroke-width="0.6"/>
<line x1="562.60" y1="203.47" x2="562.60" y2="205.67" stroke="#111111" stroke-width="0.6"/>
<line x1="562.40" y1="219.91" x2="593.80" y2="219.91" stroke="#111111" stroke-width="0.55"/>
<line x1="562.40" y1="218.81" x2="562.40" y2="221.01" stroke="#111111" stroke-width="0.6"/>
<line x1="593.80" y1="218.81" x2="593.80" y2="221.01" stroke="#111111" stroke-width="0.6"/>
<rect x="508.40" y="253.17" width="64.00" height="15.50" fill="#FFFF2B"/>
<rect x="508.40" y="268.51" width="52.60" height="15.50" fill="#FF6A0A"/>
<rect x="508.40" y="283.86" width="17.40" height="15.50" fill="#853793"/>
<rect x="508.40" y="299.20" width="32.80" height="15.50" fill="#40A339"/>
<rect x="508.40" y="314.55" width="64.60" height="15.50" fill="#2D6AAB"/>
<line x1="565.40" y1="260.84" x2="578.80" y2="260.84" stroke="#111111" stroke-width="0.55"/>
<line x1="565.40" y1="259.74" x2="565.40" y2="261.94" stroke="#111111" stroke-width="0.6"/>
<line x1="578.80" y1="259.74" x2="578.80" y2="261.94" stroke="#111111" stroke-width="0.6"/>
<line x1="550.80" y1="276.19" x2="571.80" y2="276.19" stroke="#111111" stroke-width="0.55"/>
<line x1="550.80" y1="275.09" x2="550.80" y2="277.29" stroke="#111111" stroke-width="0.6"/>
<line x1="571.80" y1="275.09" x2="571.80" y2="277.29" stroke="#111111" stroke-width="0.6"/>
<line x1="489.60" y1="291.53" x2="554.80" y2="291.53" stroke="#111111" stroke-width="0.55"/>
<line x1="489.60" y1="290.43" x2="489.60" y2="292.63" stroke="#111111" stroke-width="0.6"/>
<line x1="554.80" y1="290.43" x2="554.80" y2="292.63" stroke="#111111" stroke-width="0.6"/>
<line x1="515.40" y1="306.88" x2="558.80" y2="306.88" stroke="#111111" stroke-width="0.55"/>
<line x1="515.40" y1="305.78" x2="515.40" y2="307.98" stroke="#111111" stroke-width="0.6"/>
<line x1="558.80" y1="305.78" x2="558.80" y2="307.98" stroke="#111111" stroke-width="0.6"/>
<line x1="559.40" y1="322.22" x2="586.60" y2="322.22" stroke="#111111" stroke-width="0.55"/>
<line x1="559.40" y1="321.12" x2="559.40" y2="323.32" stroke="#111111" stroke-width="0.6"/>
<line x1="586.60" y1="321.12" x2="586.60" y2="323.32" stroke="#111111" stroke-width="0.6"/>
<rect x="508.40" y="355.47" width="54.00" height="15.50" fill="#FFFF2B"/>
<rect x="508.40" y="370.82" width="50.40" height="15.50" fill="#FF6A0A"/>
<rect x="508.40" y="386.17" width="15.20" height="15.50" fill="#853793"/>
<rect x="508.40" y="401.51" width="12.40" height="15.50" fill="#40A339"/>
<rect x="508.40" y="416.86" width="56.40" height="15.50" fill="#2D6AAB"/>
<line x1="546.60" y1="363.15" x2="573.60" y2="363.15" stroke="#111111" stroke-width="0.55"/>
<line x1="546.60" y1="362.05" x2="546.60" y2="364.25" stroke="#111111" stroke-width="0.6"/>
<line x1="573.60" y1="362.05" x2="573.60" y2="364.25" stroke="#111111" stroke-width="0.6"/>
<line x1="546.60" y1="378.49" x2="570.60" y2="378.49" stroke="#111111" stroke-width="0.55"/>
<line x1="546.60" y1="377.39" x2="546.60" y2="379.59" stroke="#111111" stroke-width="0.6"/>
<line x1="570.60" y1="377.39" x2="570.60" y2="379.59" stroke="#111111" stroke-width="0.6"/>
<line x1="473.60" y1="393.84" x2="556.80" y2="393.84" stroke="#111111" stroke-width="0.55"/>
<line x1="473.60" y1="392.74" x2="473.60" y2="394.94" stroke="#111111" stroke-width="0.6"/>
<line x1="556.80" y1="392.74" x2="556.80" y2="394.94" stroke="#111111" stroke-width="0.6"/>
<line x1="486.40" y1="409.19" x2="543.80" y2="409.19" stroke="#111111" stroke-width="0.55"/>
<line x1="486.40" y1="408.09" x2="486.40" y2="410.29" stroke="#111111" stroke-width="0.6"/>
<line x1="543.80" y1="408.09" x2="543.80" y2="410.29" stroke="#111111" stroke-width="0.6"/>
<line x1="549.60" y1="424.53" x2="579.60" y2="424.53" stroke="#111111" stroke-width="0.55"/>
<line x1="549.60" y1="423.43" x2="549.60" y2="425.63" stroke="#111111" stroke-width="0.6"/>
<line x1="579.60" y1="423.43" x2="579.60" y2="425.63" stroke="#111111" stroke-width="0.6"/>
<line x1="476.00" y1="462.90" x2="476.00" y2="464.20" stroke="#9A9A9A" stroke-width="0.5"/>
<text x="476.00" y="471.80" font-size="9.9" text-anchor="middle" fill="#444444" >-0.1</text>
<line x1="508.40" y1="462.90" x2="508.40" y2="464.20" stroke="#9A9A9A" stroke-width="0.5"/>
<text x="508.40" y="471.80" font-size="9.9" text-anchor="middle" fill="#444444" >0.0</text>
<line x1="540.20" y1="462.90" x2="540.20" y2="464.20" stroke="#9A9A9A" stroke-width="0.5"/>
<text x="540.20" y="471.80" font-size="9.9" text-anchor="middle" fill="#444444" >0.1</text>
<line x1="571.60" y1="462.90" x2="571.60" y2="464.20" stroke="#9A9A9A" stroke-width="0.5"/>
<text x="571.60" y="471.80" font-size="9.9" text-anchor="middle" fill="#444444" >0.2</text>
<line x1="603.40" y1="462.90" x2="603.40" y2="464.20" stroke="#9A9A9A" stroke-width="0.5"/>
<text x="603.40" y="471.80" font-size="9.9" text-anchor="middle" fill="#444444" >0.3</text>
<text x="30.50" y="98.73" font-size="9.9" text-anchor="end" fill="#444444" >500</text>
<text x="30.50" y="201.61" font-size="9.9" text-anchor="end" fill="#444444" >200</text>
<text x="30.50" y="304.49" font-size="9.9" text-anchor="end" fill="#444444" >100</text>
<text x="30.50" y="407.37" font-size="9.9" text-anchor="end" fill="#444444" >50</text>
<text x="101.80" y="486.50" font-size="12.5" text-anchor="middle" fill="#000" >AUC</text>
<text x="246.50" y="486.50" font-size="12.5" text-anchor="middle" fill="#000" >F1 score</text>
<text x="355.80" y="484.50" font-size="12.5" text-anchor="start" fill="#000" >ABC<tspan font-size="8.9" dy="2">cdf</tspan><tspan dy="-2"> Gain</tspan></text>
<text x="497.00" y="484.50" font-size="12.5" text-anchor="start" fill="#000" >ABC<tspan font-size="8.9" dy="2">count</tspan><tspan dy="-2"> Gain</tspan></text>
<text transform="translate(10.2,249.6) rotate(-90)" font-size="12.5" text-anchor="middle" fill="#000">No. Labeled Patients</text>
<rect x="32.40" y="533.30" width="185.40" height="432.20" fill="#E5E5E5"/>
<line x1="69.60" y1="533.30" x2="69.60" y2="965.50" stroke="#ECECEC" stroke-width="0.6"/>
<line x1="117.60" y1="533.30" x2="117.60" y2="965.50" stroke="#ECECEC" stroke-width="0.6"/>
<line x1="166.00" y1="533.30" x2="166.00" y2="965.50" stroke="#ECECEC" stroke-width="0.6"/>
<line x1="213.60" y1="533.30" x2="213.60" y2="965.50" stroke="#ECECEC" stroke-width="0.6"/>
<line x1="45.20" y1="533.30" x2="45.20" y2="965.50" stroke="#EFEFEF" stroke-width="1.0"/>
<line x1="93.60" y1="533.30" x2="93.60" y2="965.50" stroke="#EFEFEF" stroke-width="1.0"/>
<line x1="142.20" y1="533.30" x2="142.20" y2="965.50" stroke="#EFEFEF" stroke-width="1.0"/>
<line x1="189.60" y1="533.30" x2="189.60" y2="965.50" stroke="#EFEFEF" stroke-width="1.0"/>
<line x1="32.40" y1="614.34" x2="217.80" y2="614.34" stroke="#EFEFEF" stroke-width="1.0"/>
<line x1="32.40" y1="749.40" x2="217.80" y2="749.40" stroke="#EFEFEF" stroke-width="1.0"/>
<line x1="32.40" y1="884.46" x2="217.80" y2="884.46" stroke="#EFEFEF" stroke-width="1.0"/>
<rect x="32.40" y="553.56" width="125.80" height="20.41" fill="#FFFF2B"/>
<rect x="32.40" y="573.82" width="101.80" height="20.41" fill="#FF6A0A"/>
<rect x="32.40" y="594.08" width="75.20" height="20.41" fill="#853793"/>
<rect x="32.40" y="614.34" width="143.00" height="20.41" fill="#40A339"/>
<rect x="32.40" y="634.60" width="158.40" height="20.41" fill="#2D6AAB"/>
<rect x="32.40" y="654.86" width="22.60" height="20.41" fill="#DB0016"/>
<line x1="139.40" y1="563.69" x2="172.40" y2="563.69" stroke="#111111" stroke-width="0.55"/>
<line x1="139.40" y1="562.59" x2="139.40" y2="564.79" stroke="#111111" stroke-width="0.6"/>
<line x1="172.40" y1="562.59" x2="172.40" y2="564.79" stroke="#111111" stroke-width="0.6"/>
<line x1="119.20" y1="583.95" x2="151.00" y2="583.95" stroke="#111111" stroke-width="0.55"/>
<line x1="119.20" y1="582.85" x2="119.20" y2="585.05" stroke="#111111" stroke-width="0.6"/>
<line x1="151.00" y1="582.85" x2="151.00" y2="585.05" stroke="#111111" stroke-width="0.6"/>
<line x1="93.20" y1="604.21" x2="122.60" y2="604.21" stroke="#111111" stroke-width="0.55"/>
<line x1="93.20" y1="603.11" x2="93.20" y2="605.31" stroke="#111111" stroke-width="0.6"/>
<line x1="122.60" y1="603.11" x2="122.60" y2="605.31" stroke="#111111" stroke-width="0.6"/>
<line x1="159.40" y1="624.47" x2="185.40" y2="624.47" stroke="#111111" stroke-width="0.55"/>
<line x1="159.40" y1="623.37" x2="159.40" y2="625.57" stroke="#111111" stroke-width="0.6"/>
<line x1="185.40" y1="623.37" x2="185.40" y2="625.57" stroke="#111111" stroke-width="0.6"/>
<line x1="171.40" y1="644.73" x2="205.80" y2="644.73" stroke="#111111" stroke-width="0.55"/>
<line x1="171.40" y1="643.63" x2="171.40" y2="645.83" stroke="#111111" stroke-width="0.6"/>
<line x1="205.80" y1="643.63" x2="205.80" y2="645.83" stroke="#111111" stroke-width="0.6"/>
<line x1="48.00" y1="664.99" x2="62.80" y2="664.99" stroke="#111111" stroke-width="0.55"/>
<line x1="48.00" y1="663.89" x2="48.00" y2="666.09" stroke="#111111" stroke-width="0.6"/>
<line x1="62.80" y1="663.89" x2="62.80" y2="666.09" stroke="#111111" stroke-width="0.6"/>
<rect x="32.40" y="688.62" width="113.20" height="20.41" fill="#FFFF2B"/>
<rect x="32.40" y="708.88" width="96.40" height="20.41" fill="#FF6A0A"/>
<rect x="32.40" y="729.14" width="68.40" height="20.41" fill="#853793"/>
<rect x="32.40" y="749.40" width="131.80" height="20.41" fill="#40A339"/>
<rect x="32.40" y="769.66" width="102.40" height="20.41" fill="#2D6AAB"/>
<rect x="32.40" y="789.92" width="22.60" height="20.41" fill="#DB0016"/>
<line x1="129.60" y1="698.75" x2="156.60" y2="698.75" stroke="#111111" stroke-width="0.55"/>
<line x1="129.60" y1="697.65" x2="129.60" y2="699.85" stroke="#111111" stroke-width="0.6"/>
<line x1="156.60" y1="697.65" x2="156.60" y2="699.85" stroke="#111111" stroke-width="0.6"/>
<line x1="116.40" y1="719.01" x2="140.60" y2="719.01" stroke="#111111" stroke-width="0.55"/>
<line x1="116.40" y1="717.91" x2="116.40" y2="720.11" stroke="#111111" stroke-width="0.6"/>
<line x1="140.60" y1="717.91" x2="140.60" y2="720.11" stroke="#111111" stroke-width="0.6"/>
<line x1="90.40" y1="739.27" x2="109.60" y2="739.27" stroke="#111111" stroke-width="0.55"/>
<line x1="90.40" y1="738.17" x2="90.40" y2="740.37" stroke="#111111" stroke-width="0.6"/>
<line x1="109.60" y1="738.17" x2="109.60" y2="740.37" stroke="#111111" stroke-width="0.6"/>
<line x1="152.40" y1="759.53" x2="176.80" y2="759.53" stroke="#111111" stroke-width="0.55"/>
<line x1="152.40" y1="758.43" x2="152.40" y2="760.63" stroke="#111111" stroke-width="0.6"/>
<line x1="176.80" y1="758.43" x2="176.80" y2="760.63" stroke="#111111" stroke-width="0.6"/>
<line x1="111.40" y1="779.79" x2="151.80" y2="779.79" stroke="#111111" stroke-width="0.55"/>
<line x1="111.40" y1="778.69" x2="111.40" y2="780.89" stroke="#111111" stroke-width="0.6"/>
<line x1="151.80" y1="778.69" x2="151.80" y2="780.89" stroke="#111111" stroke-width="0.6"/>
<line x1="48.00" y1="800.05" x2="62.80" y2="800.05" stroke="#111111" stroke-width="0.55"/>
<line x1="48.00" y1="798.95" x2="48.00" y2="801.15" stroke="#111111" stroke-width="0.6"/>
<line x1="62.80" y1="798.95" x2="62.80" y2="801.15" stroke="#111111" stroke-width="0.6"/>
<rect x="32.40" y="823.68" width="101.60" height="20.41" fill="#FFFF2B"/>
<rect x="32.40" y="843.94" width="89.20" height="20.41" fill="#FF6A0A"/>
<rect x="32.40" y="864.20" width="58.20" height="20.41" fill="#853793"/>
<rect x="32.40" y="884.46" width="76.80" height="20.41" fill="#40A339"/>
<rect x="32.40" y="904.72" width="63.00" height="20.41" fill="#2D6AAB"/>
<rect x="32.40" y="924.98" width="22.60" height="20.41" fill="#DB0016"/>
<line x1="112.40" y1="833.81" x2="147.80" y2="833.81" stroke="#111111" stroke-width="0.55"/>
<line x1="112.40" y1="832.71" x2="112.40" y2="834.91" stroke="#111111" stroke-width="0.6"/>
<line x1="147.80" y1="832.71" x2="147.80" y2="834.91" stroke="#111111" stroke-width="0.6"/>
<line x1="102.20" y1="854.07" x2="129.80" y2="854.07" stroke="#111111" stroke-width="0.55"/>
<line x1="102.20" y1="852.97" x2="102.20" y2="855.17" stroke="#111111" stroke-width="0.6"/>
<line x1="129.80" y1="852.97" x2="129.80" y2="855.17" stroke="#111111" stroke-width="0.6"/>
<line x1="71.40" y1="874.33" x2="102.60" y2="874.33" stroke="#111111" stroke-width="0.55"/>
<line x1="71.40" y1="873.23" x2="71.40" y2="875.43" stroke="#111111" stroke-width="0.6"/>
<line x1="102.60" y1="873.23" x2="102.60" y2="875.43" stroke="#111111" stroke-width="0.6"/>
<line x1="90.40" y1="894.59" x2="124.60" y2="894.59" stroke="#111111" stroke-width="0.55"/>
<line x1="90.40" y1="893.49" x2="90.40" y2="895.69" stroke="#111111" stroke-width="0.6"/>
<line x1="124.60" y1="893.49" x2="124.60" y2="895.69" stroke="#111111" stroke-width="0.6"/>
<line x1="61.40" y1="914.85" x2="124.60" y2="914.85" stroke="#111111" stroke-width="0.55"/>
<line x1="61.40" y1="913.75" x2="61.40" y2="915.95" stroke="#111111" stroke-width="0.6"/>
<line x1="124.60" y1="913.75" x2="124.60" y2="915.95" stroke="#111111" stroke-width="0.6"/>
<line x1="48.00" y1="935.11" x2="62.80" y2="935.11" stroke="#111111" stroke-width="0.55"/>
<line x1="48.00" y1="934.01" x2="48.00" y2="936.21" stroke="#111111" stroke-width="0.6"/>
<line x1="62.80" y1="934.01" x2="62.80" y2="936.21" stroke="#111111" stroke-width="0.6"/>
<line x1="45.20" y1="965.50" x2="45.20" y2="966.80" stroke="#9A9A9A" stroke-width="0.5"/>
<text x="45.20" y="974.40" font-size="9.9" text-anchor="middle" fill="#444444" >0.6</text>
<line x1="93.60" y1="965.50" x2="93.60" y2="966.80" stroke="#9A9A9A" stroke-width="0.5"/>
<text x="93.60" y="974.40" font-size="9.9" text-anchor="middle" fill="#444444" >0.7</text>
<line x1="142.20" y1="965.50" x2="142.20" y2="966.80" stroke="#9A9A9A" stroke-width="0.5"/>
<text x="142.20" y="974.40" font-size="9.9" text-anchor="middle" fill="#444444" >0.8</text>
<line x1="189.60" y1="965.50" x2="189.60" y2="966.80" stroke="#9A9A9A" stroke-width="0.5"/>
<text x="189.60" y="974.40" font-size="9.9" text-anchor="middle" fill="#444444" >0.9</text>
<line x1="31.10" y1="614.34" x2="32.40" y2="614.34" stroke="#9A9A9A" stroke-width="0.5"/>
<line x1="31.10" y1="749.40" x2="32.40" y2="749.40" stroke="#9A9A9A" stroke-width="0.5"/>
<line x1="31.10" y1="884.46" x2="32.40" y2="884.46" stroke="#9A9A9A" stroke-width="0.5"/>
<rect x="222.60" y="533.30" width="186.40" height="432.20" fill="#E5E5E5"/>
<line x1="265.00" y1="533.30" x2="265.00" y2="965.50" stroke="#ECECEC" stroke-width="0.6"/>
<line x1="326.60" y1="533.30" x2="326.60" y2="965.50" stroke="#ECECEC" stroke-width="0.6"/>
<line x1="388.60" y1="533.30" x2="388.60" y2="965.50" stroke="#ECECEC" stroke-width="0.6"/>
<line x1="234.40" y1="533.30" x2="234.40" y2="965.50" stroke="#EFEFEF" stroke-width="1.0"/>
<line x1="295.60" y1="533.30" x2="295.60" y2="965.50" stroke="#EFEFEF" stroke-width="1.0"/>
<line x1="357.40" y1="533.30" x2="357.40" y2="965.50" stroke="#EFEFEF" stroke-width="1.0"/>
<line x1="222.60" y1="614.34" x2="409.00" y2="614.34" stroke="#EFEFEF" stroke-width="1.0"/>
<line x1="222.60" y1="749.40" x2="409.00" y2="749.40" stroke="#EFEFEF" stroke-width="1.0"/>
<line x1="222.60" y1="884.46" x2="409.00" y2="884.46" stroke="#EFEFEF" stroke-width="1.0"/>
<rect x="222.60" y="553.56" width="131.60" height="20.41" fill="#FFFF2B"/>
<rect x="222.60" y="573.82" width="95.00" height="20.41" fill="#FF6A0A"/>
<rect x="222.60" y="594.08" width="97.20" height="20.41" fill="#853793"/>
<rect x="222.60" y="614.34" width="143.60" height="20.41" fill="#40A339"/>
<rect x="222.60" y="634.60" width="140.40" height="20.41" fill="#2D6AAB"/>
<rect x="222.60" y="654.86" width="64.00" height="20.41" fill="#DB0016"/>
<line x1="335.60" y1="563.69" x2="378.40" y2="563.69" stroke="#111111" stroke-width="0.55"/>
<line x1="335.60" y1="562.59" x2="335.60" y2="564.79" stroke="#111111" stroke-width="0.6"/>
<line x1="378.40" y1="562.59" x2="378.40" y2="564.79" stroke="#111111" stroke-width="0.6"/>
<line x1="299.20" y1="583.95" x2="349.00" y2="583.95" stroke="#111111" stroke-width="0.55"/>
<line x1="299.20" y1="582.85" x2="299.20" y2="585.05" stroke="#111111" stroke-width="0.6"/>
<line x1="349.00" y1="582.85" x2="349.00" y2="585.05" stroke="#111111" stroke-width="0.6"/>
<line x1="305.40" y1="604.21" x2="332.60" y2="604.21" stroke="#111111" stroke-width="0.55"/>
<line x1="305.40" y1="603.11" x2="305.40" y2="605.31" stroke="#111111" stroke-width="0.6"/>
<line x1="332.60" y1="603.11" x2="332.60" y2="605.31" stroke="#111111" stroke-width="0.6"/>
<line x1="339.00" y1="624.47" x2="389.60" y2="624.47" stroke="#111111" stroke-width="0.55"/>
<line x1="339.00" y1="623.37" x2="339.00" y2="625.57" stroke="#111111" stroke-width="0.6"/>
<line x1="389.60" y1="623.37" x2="389.60" y2="625.57" stroke="#111111" stroke-width="0.6"/>
<line x1="313.40" y1="644.73" x2="401.60" y2="644.73" stroke="#111111" stroke-width="0.55"/>
<line x1="313.40" y1="643.63" x2="313.40" y2="645.83" stroke="#111111" stroke-width="0.6"/>
<line x1="401.60" y1="643.63" x2="401.60" y2="645.83" stroke="#111111" stroke-width="0.6"/>
<line x1="276.40" y1="664.99" x2="296.60" y2="664.99" stroke="#111111" stroke-width="0.55"/>
<line x1="276.40" y1="663.89" x2="276.40" y2="666.09" stroke="#111111" stroke-width="0.6"/>
<line x1="296.60" y1="663.89" x2="296.60" y2="666.09" stroke="#111111" stroke-width="0.6"/>
<rect x="222.60" y="688.62" width="120.20" height="20.41" fill="#FFFF2B"/>
<rect x="222.60" y="708.88" width="92.40" height="20.41" fill="#FF6A0A"/>
<rect x="222.60" y="729.14" width="88.00" height="20.41" fill="#853793"/>
<rect x="222.60" y="749.40" width="142.60" height="20.41" fill="#40A339"/>
<rect x="222.60" y="769.66" width="52.80" height="20.41" fill="#2D6AAB"/>
<rect x="222.60" y="789.92" width="64.00" height="20.41" fill="#DB0016"/>
<line x1="316.00" y1="698.75" x2="361.20" y2="698.75" stroke="#111111" stroke-width="0.55"/>
<line x1="316.00" y1="697.65" x2="316.00" y2="699.85" stroke="#111111" stroke-width="0.6"/>
<line x1="361.20" y1="697.65" x2="361.20" y2="699.85" stroke="#111111" stroke-width="0.6"/>
<line x1="300.60" y1="719.01" x2="331.60" y2="719.01" stroke="#111111" stroke-width="0.55"/>
<line x1="300.60" y1="717.91" x2="300.60" y2="720.11" stroke="#111111" stroke-width="0.6"/>
<line x1="331.60" y1="717.91" x2="331.60" y2="720.11" stroke="#111111" stroke-width="0.6"/>
<line x1="301.40" y1="739.27" x2="318.60" y2="739.27" stroke="#111111" stroke-width="0.55"/>
<line x1="301.40" y1="738.17" x2="301.40" y2="740.37" stroke="#111111" stroke-width="0.6"/>
<line x1="318.60" y1="738.17" x2="318.60" y2="740.37" stroke="#111111" stroke-width="0.6"/>
<line x1="356.40" y1="759.53" x2="380.00" y2="759.53" stroke="#111111" stroke-width="0.55"/>
<line x1="356.40" y1="758.43" x2="356.40" y2="760.63" stroke="#111111" stroke-width="0.6"/>
<line x1="380.00" y1="758.43" x2="380.00" y2="760.63" stroke="#111111" stroke-width="0.6"/>
<line x1="250.00" y1="779.79" x2="306.80" y2="779.79" stroke="#111111" stroke-width="0.55"/>
<line x1="250.00" y1="778.69" x2="250.00" y2="780.89" stroke="#111111" stroke-width="0.6"/>
<line x1="306.80" y1="778.69" x2="306.80" y2="780.89" stroke="#111111" stroke-width="0.6"/>
<line x1="276.40" y1="800.05" x2="296.60" y2="800.05" stroke="#111111" stroke-width="0.55"/>
<line x1="276.40" y1="798.95" x2="276.40" y2="801.15" stroke="#111111" stroke-width="0.6"/>
<line x1="296.60" y1="798.95" x2="296.60" y2="801.15" stroke="#111111" stroke-width="0.6"/>
<rect x="222.60" y="823.68" width="104.80" height="20.41" fill="#FFFF2B"/>
<rect x="222.60" y="843.94" width="87.60" height="20.41" fill="#FF6A0A"/>
<rect x="222.60" y="864.20" width="78.20" height="20.41" fill="#853793"/>
<rect x="222.60" y="884.46" width="80.40" height="20.41" fill="#40A339"/>
<rect x="222.60" y="904.72" width="24.20" height="20.41" fill="#2D6AAB"/>
<rect x="222.60" y="924.98" width="64.00" height="20.41" fill="#DB0016"/>
<line x1="299.60" y1="833.81" x2="347.00" y2="833.81" stroke="#111111" stroke-width="0.55"/>
<line x1="299.60" y1="832.71" x2="299.60" y2="834.91" stroke="#111111" stroke-width="0.6"/>
<line x1="347.00" y1="832.71" x2="347.00" y2="834.91" stroke="#111111" stroke-width="0.6"/>
<line x1="294.00" y1="854.07" x2="326.60" y2="854.07" stroke="#111111" stroke-width="0.55"/>
<line x1="294.00" y1="852.97" x2="294.00" y2="855.17" stroke="#111111" stroke-width="0.6"/>
<line x1="326.60" y1="852.97" x2="326.60" y2="855.17" stroke="#111111" stroke-width="0.6"/>
<line x1="280.40" y1="874.33" x2="313.00" y2="874.33" stroke="#111111" stroke-width="0.55"/>
<line x1="280.40" y1="873.23" x2="280.40" y2="875.43" stroke="#111111" stroke-width="0.6"/>
<line x1="313.00" y1="873.23" x2="313.00" y2="875.43" stroke="#111111" stroke-width="0.6"/>
<line x1="279.00" y1="894.59" x2="325.40" y2="894.59" stroke="#111111" stroke-width="0.55"/>
<line x1="279.00" y1="893.49" x2="279.00" y2="895.69" stroke="#111111" stroke-width="0.6"/>
<line x1="325.40" y1="893.49" x2="325.40" y2="895.69" stroke="#111111" stroke-width="0.6"/>
<line x1="235.20" y1="914.85" x2="269.20" y2="914.85" stroke="#111111" stroke-width="0.55"/>
<line x1="235.20" y1="913.75" x2="235.20" y2="915.95" stroke="#111111" stroke-width="0.6"/>
<line x1="269.20" y1="913.75" x2="269.20" y2="915.95" stroke="#111111" stroke-width="0.6"/>
<line x1="276.40" y1="935.11" x2="296.60" y2="935.11" stroke="#111111" stroke-width="0.55"/>
<line x1="276.40" y1="934.01" x2="276.40" y2="936.21" stroke="#111111" stroke-width="0.6"/>
<line x1="296.60" y1="934.01" x2="296.60" y2="936.21" stroke="#111111" stroke-width="0.6"/>
<line x1="234.40" y1="965.50" x2="234.40" y2="966.80" stroke="#9A9A9A" stroke-width="0.5"/>
<text x="234.40" y="974.40" font-size="9.9" text-anchor="middle" fill="#444444" >0.2</text>
<line x1="295.60" y1="965.50" x2="295.60" y2="966.80" stroke="#9A9A9A" stroke-width="0.5"/>
<text x="295.60" y="974.40" font-size="9.9" text-anchor="middle" fill="#444444" >0.4</text>
<line x1="357.40" y1="965.50" x2="357.40" y2="966.80" stroke="#9A9A9A" stroke-width="0.5"/>
<text x="357.40" y="974.40" font-size="9.9" text-anchor="middle" fill="#444444" >0.6</text>
<rect x="414.40" y="533.30" width="195.60" height="429.70" fill="#E5E5E5"/>
<line x1="419.40" y1="533.30" x2="419.40" y2="963.00" stroke="#ECECEC" stroke-width="0.6"/>
<line x1="477.60" y1="533.30" x2="477.60" y2="963.00" stroke="#ECECEC" stroke-width="0.6"/>
<line x1="535.60" y1="533.30" x2="535.60" y2="963.00" stroke="#ECECEC" stroke-width="0.6"/>
<line x1="593.60" y1="533.30" x2="593.60" y2="963.00" stroke="#ECECEC" stroke-width="0.6"/>
<line x1="448.60" y1="533.30" x2="448.60" y2="963.00" stroke="#EFEFEF" stroke-width="1.0"/>
<line x1="506.60" y1="533.30" x2="506.60" y2="963.00" stroke="#EFEFEF" stroke-width="1.0"/>
<line x1="565.00" y1="533.30" x2="565.00" y2="963.00" stroke="#EFEFEF" stroke-width="1.0"/>
<line x1="414.40" y1="613.87" x2="610.00" y2="613.87" stroke="#EFEFEF" stroke-width="1.0"/>
<line x1="414.40" y1="748.15" x2="610.00" y2="748.15" stroke="#EFEFEF" stroke-width="1.0"/>
<line x1="414.40" y1="882.43" x2="610.00" y2="882.43" stroke="#EFEFEF" stroke-width="1.0"/>
<rect x="448.60" y="553.44" width="127.00" height="20.29" fill="#FFFF2B"/>
<rect x="448.60" y="573.58" width="74.20" height="20.29" fill="#FF6A0A"/>
<rect x="443.80" y="593.73" width="4.80" height="20.29" fill="#853793"/>
<rect x="448.60" y="613.87" width="45.40" height="20.29" fill="#40A339"/>
<rect x="448.60" y="634.01" width="126.40" height="20.29" fill="#2D6AAB"/>
<line x1="554.40" y1="563.51" x2="589.60" y2="563.51" stroke="#111111" stroke-width="0.55"/>
<line x1="554.40" y1="562.41" x2="554.40" y2="564.61" stroke="#111111" stroke-width="0.6"/>
<line x1="589.60" y1="562.41" x2="589.60" y2="564.61" stroke="#111111" stroke-width="0.6"/>
<line x1="500.40" y1="583.66" x2="545.40" y2="583.66" stroke="#111111" stroke-width="0.55"/>
<line x1="500.40" y1="582.56" x2="500.40" y2="584.76" stroke="#111111" stroke-width="0.6"/>
<line x1="545.40" y1="582.56" x2="545.40" y2="584.76" stroke="#111111" stroke-width="0.6"/>
<line x1="428.60" y1="603.80" x2="462.80" y2="603.80" stroke="#111111" stroke-width="0.55"/>
<line x1="428.60" y1="602.70" x2="428.60" y2="604.90" stroke="#111111" stroke-width="0.6"/>
<line x1="462.80" y1="602.70" x2="462.80" y2="604.90" stroke="#111111" stroke-width="0.6"/>
<line x1="464.00" y1="623.94" x2="531.60" y2="623.94" stroke="#111111" stroke-width="0.55"/>
<line x1="464.00" y1="622.84" x2="464.00" y2="625.04" stroke="#111111" stroke-width="0.6"/>
<line x1="531.60" y1="622.84" x2="531.60" y2="625.04" stroke="#111111" stroke-width="0.6"/>
<line x1="550.20" y1="644.08" x2="595.40" y2="644.08" stroke="#111111" stroke-width="0.55"/>
<line x1="550.20" y1="642.98" x2="550.20" y2="645.18" stroke="#111111" stroke-width="0.6"/>
<line x1="595.40" y1="642.98" x2="595.40" y2="645.18" stroke="#111111" stroke-width="0.6"/>
<rect x="448.60" y="687.72" width="125.40" height="20.29" fill="#FFFF2B"/>
<rect x="448.60" y="707.87" width="76.40" height="20.29" fill="#FF6A0A"/>
<rect x="441.00" y="728.01" width="7.60" height="20.29" fill="#853793"/>
<rect x="448.60" y="748.15" width="24.40" height="20.29" fill="#40A339"/>
<rect x="448.60" y="768.29" width="74.00" height="20.29" fill="#2D6AAB"/>
<line x1="554.40" y1="697.79" x2="592.60" y2="697.79" stroke="#111111" stroke-width="0.55"/>
<line x1="554.40" y1="696.69" x2="554.40" y2="698.89" stroke="#111111" stroke-width="0.6"/>
<line x1="592.60" y1="696.69" x2="592.60" y2="698.89" stroke="#111111" stroke-width="0.6"/>
<line x1="484.40" y1="717.94" x2="560.60" y2="717.94" stroke="#111111" stroke-width="0.55"/>
<line x1="484.40" y1="716.84" x2="484.40" y2="719.04" stroke="#111111" stroke-width="0.6"/>
<line x1="560.60" y1="716.84" x2="560.60" y2="719.04" stroke="#111111" stroke-width="0.6"/>
<line x1="424.80" y1="738.08" x2="461.80" y2="738.08" stroke="#111111" stroke-width="0.55"/>
<line x1="424.80" y1="736.98" x2="424.80" y2="739.18" stroke="#111111" stroke-width="0.6"/>
<line x1="461.80" y1="736.98" x2="461.80" y2="739.18" stroke="#111111" stroke-width="0.6"/>
<line x1="451.40" y1="758.22" x2="504.60" y2="758.22" stroke="#111111" stroke-width="0.55"/>
<line x1="451.40" y1="757.12" x2="451.40" y2="759.32" stroke="#111111" stroke-width="0.6"/>
<line x1="504.60" y1="757.12" x2="504.60" y2="759.32" stroke="#111111" stroke-width="0.6"/>
<line x1="508.40" y1="778.36" x2="537.60" y2="778.36" stroke="#111111" stroke-width="0.55"/>
<line x1="508.40" y1="777.26" x2="508.40" y2="779.46" stroke="#111111" stroke-width="0.6"/>
<line x1="537.60" y1="777.26" x2="537.60" y2="779.46" stroke="#111111" stroke-width="0.6"/>
<rect x="448.60" y="822.00" width="125.60" height="20.29" fill="#FFFF2B"/>
<rect x="448.60" y="842.15" width="85.20" height="20.29" fill="#FF6A0A"/>
<rect x="448.60" y="862.29" width="4.00" height="20.29" fill="#853793"/>
<rect x="445.20" y="882.43" width="3.40" height="20.29" fill="#40A339"/>
<rect x="448.60" y="902.57" width="57.20" height="20.29" fill="#2D6AAB"/>
<line x1="547.20" y1="832.08" x2="594.80" y2="832.08" stroke="#111111" stroke-width="0.55"/>
<line x1="547.20" y1="830.98" x2="547.20" y2="833.18" stroke="#111111" stroke-width="0.6"/>
<line x1="594.80" y1="830.98" x2="594.80" y2="833.18" stroke="#111111" stroke-width="0.6"/>
<line x1="491.40" y1="852.22" x2="571.80" y2="852.22" stroke="#111111" stroke-width="0.55"/>
<line x1="491.40" y1="851.12" x2="491.40" y2="853.32" stroke="#111111" stroke-width="0.6"/>
<line x1="571.80" y1="851.12" x2="571.80" y2="853.32" stroke="#111111" stroke-width="0.6"/>
<line x1="433.40" y1="872.36" x2="472.40" y2="872.36" stroke="#111111" stroke-width="0.55"/>
<line x1="433.40" y1="871.26" x2="433.40" y2="873.46" stroke="#111111" stroke-width="0.6"/>
<line x1="472.40" y1="871.26" x2="472.40" y2="873.46" stroke="#111111" stroke-width="0.6"/>
<line x1="426.40" y1="892.50" x2="463.80" y2="892.50" stroke="#111111" stroke-width="0.55"/>
<line x1="426.40" y1="891.40" x2="426.40" y2="893.60" stroke="#111111" stroke-width="0.6"/>
<line x1="463.80" y1="891.40" x2="463.80" y2="893.60" stroke="#111111" stroke-width="0.6"/>
<line x1="489.40" y1="912.64" x2="524.80" y2="912.64" stroke="#111111" stroke-width="0.55"/>
<line x1="489.40" y1="911.54" x2="489.40" y2="913.74" stroke="#111111" stroke-width="0.6"/>
<line x1="524.80" y1="911.54" x2="524.80" y2="913.74" stroke="#111111" stroke-width="0.6"/>
<line x1="448.60" y1="963.00" x2="448.60" y2="964.30" stroke="#9A9A9A" stroke-width="0.5"/>
<text x="448.60" y="971.60" font-size="9.9" text-anchor="middle" fill="#444444" >0.00</text>
<line x1="506.60" y1="963.00" x2="506.60" y2="964.30" stroke="#9A9A9A" stroke-width="0.5"/>
<text x="506.60" y="971.60" font-size="9.9" text-anchor="middle" fill="#444444" >0.25</text>
<line x1="565.00" y1="963.00" x2="565.00" y2="964.30" stroke="#9A9A9A" stroke-width="0.5"/>
<text x="565.00" y="971.60" font-size="9.9" text-anchor="middle" fill="#444444" >0.50</text>
<text x="30.50" y="618.14" font-size="9.9" text-anchor="end" fill="#444444" >200</text>
<text x="30.50" y="753.20" font-size="9.9" text-anchor="end" fill="#444444" >100</text>
<text x="30.50" y="888.26" font-size="9.9" text-anchor="end" fill="#444444" >50</text>
<text x="125.00" y="986.10" font-size="12.5" text-anchor="middle" fill="#000" >AUC</text>
<text x="315.50" y="986.10" font-size="12.5" text-anchor="middle" fill="#000" >F1 score</text>
<text x="476.00" y="984.10" font-size="12.5" text-anchor="start" fill="#000" >ABC<tspan font-size="8.9" dy="2">cdf</tspan><tspan dy="-2"> Gain</tspan></text>
<text transform="translate(10.2,749.4) rotate(-90)" font-size="12.5" text-anchor="middle" fill="#000">No. Labeled Patients</text>
<rect x="616.20" y="229.40" width="5.60" height="8.40" fill="#DB0016"/>
<text x="628.30" y="237.20" font-size="9.95" text-anchor="start" fill="#000" >PheCode</text>
<rect x="616.20" y="238.80" width="5.60" height="8.40" fill="#2D6AAB"/>
<text x="628.30" y="246.60" font-size="9.95" text-anchor="start" fill="#000" >LSTM</text>
<rect x="616.20" y="248.20" width="5.60" height="8.40" fill="#40A339"/>
<text x="628.30" y="256.00" font-size="9.95" text-anchor="start" fill="#000" >RETAIN</text>
<rect x="616.20" y="257.60" width="5.60" height="8.40" fill="#853793"/>
<text x="628.30" y="265.40" font-size="9.95" text-anchor="start" fill="#000" >LDA Embed</text>
<rect x="616.20" y="267.00" width="5.60" height="8.40" fill="#FF6A0A"/>
<text x="628.30" y="274.80" font-size="9.95" text-anchor="start" fill="#000" >HMM</text>
<rect x="616.20" y="276.40" width="5.60" height="8.40" fill="#FFFF2B"/>
<text x="628.30" y="284.20" font-size="9.95" text-anchor="start" fill="#000" >SAMGEP</text>
<rect x="616.20" y="729.20" width="5.60" height="8.40" fill="#DB0016"/>
<text x="628.30" y="737.00" font-size="9.95" text-anchor="start" fill="#000" >PheCode</text>
<rect x="616.20" y="738.60" width="5.60" height="8.40" fill="#2D6AAB"/>
<text x="628.30" y="746.40" font-size="9.95" text-anchor="start" fill="#000" >LSTM</text>
<rect x="616.20" y="748.00" width="5.60" height="8.40" fill="#40A339"/>
<text x="628.30" y="755.80" font-size="9.95" text-anchor="start" fill="#000" >RETAIN</text>
<rect x="616.20" y="757.40" width="5.60" height="8.40" fill="#853793"/>
<text x="628.30" y="765.20" font-size="9.95" text-anchor="start" fill="#000" >LDA Embed</text>
<rect x="616.20" y="766.80" width="5.60" height="8.40" fill="#FF6A0A"/>
<text x="628.30" y="774.60" font-size="9.95" text-anchor="start" fill="#000" >HMM</text>
<rect x="616.20" y="776.20" width="5.60" height="8.40" fill="#FFFF2B"/>
<text x="628.30" y="784.00" font-size="9.95" text-anchor="start" fill="#000" >SAMGEP</text>
<text x="0.3" y="24" style="font-family:'Liberation Serif',serif;font-size:35px;font-weight:bold" fill="#000">(a)</text>
<text x="0.3" y="523.8" style="font-family:'Liberation Serif',serif;font-size:35px;font-weight:bold" fill="#000">(b)</text>
</svg>
</body>
</html>
